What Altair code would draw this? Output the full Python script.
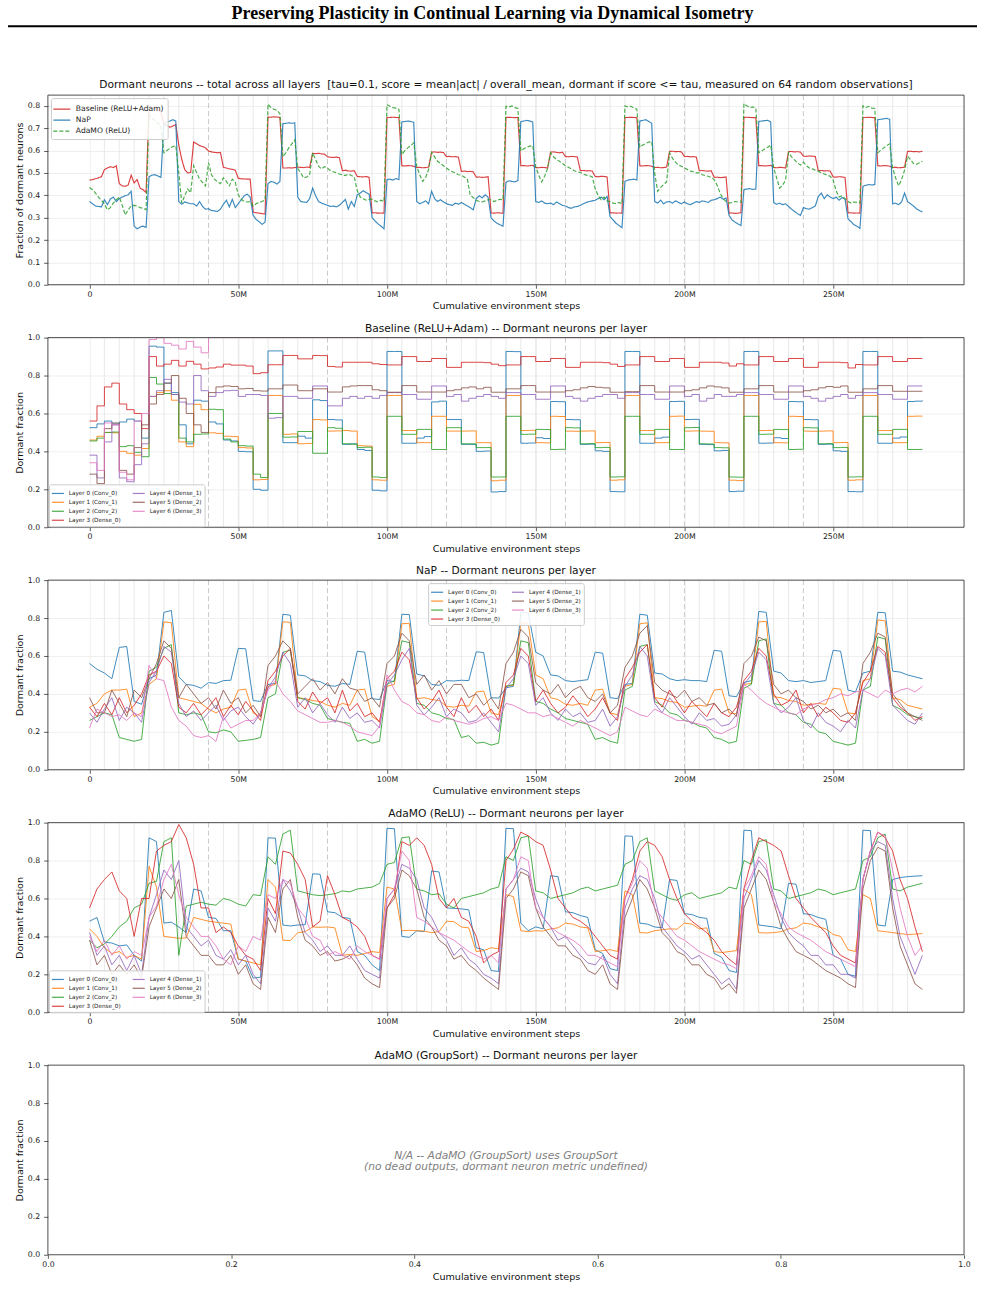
import altair as alt
import numpy as np
import pandas as pd

# Plot-area size of every panel (pixels)
W, H = 918, 190

# ---------------------------------------------------------------------------
# Total dormant fraction, one sample per 1M environment steps (0..280M),
# values stored in thousandths.
# ---------------------------------------------------------------------------
TOTAL_BASELINE = [
    468, 470, 474, 478, 483, 515, 522, 528, 524, 532,
    452, 442, 440, 446, 490, 455, 470, 432, 425, 412,
    795, 790, 785, 780, 772, 718, 712, 704, 710, 716,
    625, 560, 515, 500, 502, 638, 630, 622, 618, 612,
    598, 594, 592, 590, 592, 525, 522, 518, 516, 512,
    476, 474, 473, 472, 472, 325, 322, 320, 318, 316,
    750, 749, 751, 750, 748, 522, 522, 523, 522, 524,
    526, 525, 524, 526, 525, 588, 586, 588, 585, 584,
    572, 570, 569, 571, 568, 510, 512, 509, 508, 510,
    484, 483, 482, 484, 480, 321, 322, 320, 321, 320,
    748, 748, 749, 748, 748, 532, 531, 533, 532, 530,
    524, 525, 523, 524, 526, 593, 594, 592, 593, 591,
    573, 574, 572, 573, 571, 507, 508, 506, 507, 505,
    481, 482, 480, 481, 483, 321, 320, 322, 321, 319,
    748, 749, 748, 747, 748, 532, 533, 531, 532, 534,
    524, 523, 525, 524, 522, 593, 594, 592, 590, 593,
    573, 572, 574, 573, 571, 510, 511, 509, 510, 508,
    484, 483, 485, 484, 482, 321, 322, 320, 321, 320,
    748, 748, 749, 748, 747, 532, 531, 533, 532, 530,
    524, 525, 523, 524, 526, 596, 597, 595, 596, 594,
    573, 574, 572, 573, 571, 510, 511, 509, 508, 510,
    480, 481, 479, 480, 482, 320, 321, 319, 320, 322,
    748, 749, 748, 747, 748, 532, 533, 531, 532, 534,
    524, 523, 525, 524, 522, 595, 596, 594, 595, 593,
    575, 574, 576, 575, 573, 510, 511, 509, 510, 508,
    482, 481, 483, 482, 480, 321, 322, 320, 321, 320,
    748, 748, 749, 748, 747, 532, 531, 533, 532, 530,
    524, 525, 523, 524, 526, 596, 597, 595, 596, 594,
    597,
]

TOTAL_NAP = [
    373, 362, 352, 350, 348, 380, 358, 384, 392, 372,
    385, 392, 398, 402, 418, 262, 250, 258, 262, 256,
    482, 490, 492, 486, 480, 722, 728, 732, 738, 732,
    372, 360, 370, 366, 362, 362, 352, 372, 350, 338,
    340, 332, 330, 328, 338, 360, 378, 348, 382, 345,
    362, 380, 398, 405, 392, 310, 292, 282, 270, 280,
    452, 462, 458, 450, 462, 720, 722, 724, 722, 724,
    392, 372, 370, 368, 385, 432, 398, 372, 365, 360,
    355, 350, 352, 348, 355, 368, 382, 338, 372, 350,
    402, 410, 420, 412, 405, 300, 285, 272, 262, 250,
    470, 472, 468, 475, 470, 728, 730, 732, 730, 726,
    372, 362, 368, 375, 362, 418, 385, 372, 380, 370,
    362, 358, 355, 365, 360, 368, 360, 352, 345, 335,
    385, 398, 388, 402, 392, 300, 285, 275, 268, 262,
    458, 465, 462, 460, 466, 730, 732, 735, 732, 728,
    372, 368, 375, 365, 362, 365, 358, 370, 362, 355,
    352, 345, 342, 348, 350, 355, 362, 368, 372, 375,
    378, 385, 392, 380, 395, 305, 290, 275, 265, 255,
    462, 468, 470, 472, 468, 732, 735, 738, 730, 722,
    372, 365, 378, 362, 370, 372, 365, 375, 368, 362,
    370, 362, 358, 365, 372, 368, 375, 372, 368, 378,
    380, 385, 392, 382, 388, 310, 290, 280, 272, 265,
    425, 428, 430, 426, 428, 730, 732, 734, 735, 728,
    368, 360, 365, 358, 362, 350, 338, 328, 318, 310,
    345, 340, 338, 345, 352, 395, 410, 385, 402, 392,
    385, 392, 378, 390, 382, 295, 282, 268, 262, 252,
    440, 445, 448, 446, 448, 738, 740, 742, 744, 740,
    362, 365, 358, 370, 410, 372, 362, 352, 340, 332,
    325,
]

TOTAL_ADAMO = [
    435, 425, 410, 392, 378, 362, 335, 345, 365, 380,
    392, 355, 312, 335, 352, 355, 352, 345, 342, 335,
    760, 745, 735, 722, 712, 590, 600, 610, 618, 622,
    500, 365, 398, 428, 412, 532, 502, 472, 458, 442,
    545, 492, 472, 460, 452, 478, 462, 442, 472, 458,
    402, 382, 372, 370, 372, 352, 362, 368, 372, 380,
    808, 792, 785, 780, 765, 572, 590, 612, 630, 648,
    520, 500, 478, 482, 492, 590, 560, 530, 518, 528,
    522, 510, 505, 500, 495, 492, 488, 495, 488, 482,
    420, 392, 385, 378, 382, 382, 375, 370, 378, 372,
    805, 798, 792, 790, 785, 582, 600, 612, 622, 635,
    528, 492, 462, 480, 515, 592, 572, 552, 542, 532,
    522, 512, 505, 500, 492, 490, 482, 472, 400, 390,
    378, 372, 370, 375, 380, 380, 372, 378, 382, 380,
    798, 795, 800, 792, 788, 598, 608, 615, 620, 622,
    528, 490, 460, 485, 520, 590, 572, 560, 552, 542,
    532, 525, 518, 510, 505, 502, 495, 490, 488, 482,
    430, 398, 380, 392, 375, 372, 365, 362, 368, 362,
    800, 795, 798, 790, 785, 615, 625, 632, 638, 640,
    498, 418, 435, 448, 460, 590, 565, 548, 535, 530,
    522, 515, 508, 505, 500, 500, 492, 488, 485, 480,
    470, 445, 410, 385, 372, 365, 368, 372, 370, 368,
    810, 800, 792, 795, 790, 590, 598, 608, 615, 625,
    522, 478, 432, 445, 468, 592, 572, 558, 545, 535,
    548, 532, 522, 518, 512, 508, 500, 495, 490, 485,
    468, 420, 392, 398, 385, 372, 365, 370, 368, 365,
    800, 792, 798, 790, 788, 590, 602, 612, 622, 630,
    522, 478, 442, 470, 512, 575, 560, 542, 538, 545,
    552,
]

# ---------------------------------------------------------------------------
# Per-layer dormant fraction, one sample per 2.5M steps (0..280M),
# values stored in thousandths.  One line = 20M steps.
# ---------------------------------------------------------------------------
BASE_L0 = [
    525, 545, 560, 545, 555, 570, 560, 470,
    955, 950, 760, 710, 540, 440, 670, 665,
    555, 545, 460, 455, 400, 398, 200, 195,
    930, 930, 446, 446, 480, 470, 672, 668,
    568, 566, 437, 440, 410, 405, 195, 192,
    927, 927, 443, 443, 470, 478, 661, 665,
    568, 568, 437, 437, 400, 402, 186, 188,
    927, 926, 443, 444, 472, 468, 663, 662,
    568, 567, 437, 438, 403, 400, 188, 187,
    927, 927, 443, 443, 470, 475, 663, 664,
    568, 569, 437, 436, 403, 405, 188, 190,
    927, 927, 443, 444, 472, 468, 663, 662,
    568, 567, 437, 438, 403, 400, 188, 187,
    927, 927, 443, 443, 470, 476, 663, 665,
    668,
]
BASE_L1 = [
    460, 480, 500, 498, 400, 390, 380, 415,
    690, 710, 720, 670, 450, 425, 648, 620,
    498, 495, 480, 478, 420, 418, 250, 252,
    695, 695, 490, 492, 440, 442, 568, 566,
    507, 508, 510, 507, 430, 428, 250, 248,
    695, 695, 510, 510, 446, 446, 585, 585,
    507, 507, 507, 508, 446, 446, 245, 248,
    695, 695, 510, 511, 446, 445, 585, 584,
    507, 506, 507, 508, 446, 447, 248, 250,
    695, 695, 510, 510, 446, 446, 585, 586,
    507, 508, 507, 506, 446, 445, 248, 246,
    695, 695, 510, 511, 446, 445, 585, 584,
    507, 506, 507, 508, 446, 447, 248, 250,
    695, 695, 510, 510, 446, 446, 585, 586,
    585,
]
BASE_L2 = [
    455, 470, 500, 502, 425, 430, 395, 372,
    790, 755, 705, 700, 470, 450, 490, 492,
    622, 620, 465, 450, 430, 428, 280, 262,
    600, 600, 475, 476, 505, 505, 390, 390,
    525, 522, 440, 438, 420, 422, 265, 262,
    585, 585, 490, 490, 516, 516, 410, 410,
    525, 525, 440, 440, 420, 420, 265, 265,
    585, 585, 490, 491, 516, 515, 410, 411,
    525, 524, 440, 441, 420, 421, 265, 266,
    585, 585, 490, 490, 516, 516, 410, 410,
    525, 526, 440, 439, 420, 419, 265, 264,
    585, 585, 490, 491, 516, 515, 410, 411,
    525, 524, 440, 441, 420, 421, 265, 266,
    585, 585, 490, 490, 516, 516, 410, 410,
    410,
]
BASE_L3 = [
    560, 640, 740, 760, 650, 620, 600, 520,
    900, 850, 860, 880, 850, 875, 860, 835,
    840, 845, 860, 855, 855, 850, 810, 815,
    857, 857, 906, 906, 888, 888, 906, 905,
    848, 845, 870, 870, 870, 870, 862, 858,
    856, 856, 900, 900, 874, 874, 890, 890,
    843, 843, 870, 870, 870, 868, 860, 852,
    856, 856, 900, 900, 874, 874, 890, 890,
    843, 843, 870, 870, 870, 868, 860, 848,
    856, 856, 900, 900, 874, 874, 890, 890,
    843, 843, 870, 870, 870, 866, 850, 862,
    856, 856, 900, 900, 874, 874, 890, 890,
    843, 843, 870, 870, 870, 868, 840, 858,
    856, 856, 900, 900, 874, 874, 890, 890,
    890,
]
BASE_L4 = [
    380, 260, 450, 540, 260, 240, 330, 440,
    690, 720, 780, 700, 660, 650, 800, 720,
    690, 710, 720, 722, 690, 700, 700, 695,
    575, 578, 690, 690, 680, 680, 745, 745,
    640, 640, 680, 690, 680, 690, 680, 695,
    710, 710, 700, 700, 675, 675, 745, 745,
    690, 700, 665, 680, 690, 700, 690, 680,
    710, 710, 700, 700, 675, 675, 745, 745,
    690, 680, 665, 680, 690, 700, 700, 680,
    710, 710, 700, 700, 675, 675, 745, 745,
    690, 700, 665, 680, 700, 690, 690, 700,
    710, 710, 700, 700, 675, 675, 745, 745,
    690, 680, 665, 680, 690, 700, 680, 695,
    710, 710, 700, 700, 675, 675, 745, 745,
    745,
]
BASE_L5 = [
    280, 230, 520, 550, 300, 280, 420, 540,
    650, 700, 760, 800, 680, 600, 540, 500,
    710, 740, 745, 742, 730, 732, 720, 718,
    730, 730, 750, 750, 720, 720, 730, 730,
    713, 713, 740, 745, 747, 747, 725, 720,
    712, 712, 747, 747, 713, 713, 713, 713,
    720, 725, 735, 740, 730, 738, 712, 712,
    730, 730, 747, 747, 713, 713, 713, 713,
    720, 725, 735, 742, 738, 735, 712, 712,
    715, 715, 747, 747, 713, 713, 713, 713,
    720, 725, 735, 745, 740, 735, 712, 712,
    730, 730, 747, 747, 713, 713, 713, 713,
    720, 725, 735, 742, 738, 745, 712, 712,
    730, 730, 747, 747, 717, 717, 717, 717,
    717,
]
BASE_L6 = [
    340, 300, 550, 540, 290, 250, 560, 600,
    990, 1000, 970, 960, 940, 980, 950, 920,
    1000, 1000, 1000, 1000, 1000, 1000, 1000, 1000,
    1000, 1000, 1000, 1000, 1000, 1000, 1000, 1000,
    1000, 1000, 1000, 1000, 1000, 1000, 1000, 1000,
    1000, 1000, 1000, 1000, 1000, 1000, 1000, 1000,
    1000, 1000, 1000, 1000, 1000, 1000, 1000, 1000,
    1000, 1000, 1000, 1000, 1000, 1000, 1000, 1000,
    1000, 1000, 1000, 1000, 1000, 1000, 1000, 1000,
    1000, 1000, 1000, 1000, 1000, 1000, 1000, 1000,
    1000, 1000, 1000, 1000, 1000, 1000, 1000, 1000,
    1000, 1000, 1000, 1000, 1000, 1000, 1000, 1000,
    1000, 1000, 1000, 1000, 1000, 1000, 1000, 1000,
    1000, 1000, 1000, 1000, 1000, 1000, 1000, 1000,
    1000,
]

NAP_L0 = [
    560, 530, 510, 480, 645, 650, 360, 345,
    480, 500, 830, 840, 490, 450, 445, 430,
    460, 455, 470, 472, 640, 638, 365, 360,
    450, 455, 820, 815, 500, 495, 470, 465,
    445, 440, 455, 450, 625, 620, 375, 370,
    470, 465, 820, 818, 505, 495, 450, 445,
    470, 468, 472, 470, 622, 618, 380, 378,
    432, 440, 830, 826, 620, 600, 500, 495,
    470, 465, 470, 475, 620, 615, 380, 375,
    450, 455, 820, 815, 510, 505, 480, 470,
    475, 470, 470, 465, 630, 625, 390, 385,
    460, 470, 835, 830, 520, 510, 470, 465,
    470, 460, 465, 470, 630, 625, 420, 410,
    510, 520, 830, 828, 520, 515, 500, 490,
    480,
]
NAP_L1 = [
    330, 350, 400, 420, 420, 425, 280, 300,
    450, 480, 780, 775, 380, 370, 360, 350,
    320, 300, 320, 330, 420, 425, 300, 280,
    440, 450, 780, 778, 380, 375, 365, 360,
    340, 330, 350, 340, 420, 425, 280, 255,
    440, 450, 770, 772, 375, 380, 370, 365,
    335, 330, 340, 335, 410, 415, 300, 290,
    440, 445, 775, 770, 500, 480, 380, 370,
    345, 340, 350, 340, 420, 425, 300, 290,
    440, 450, 770, 775, 380, 375, 360, 355,
    330, 335, 340, 335, 420, 425, 300, 295,
    450, 455, 780, 782, 385, 380, 365, 360,
    340, 345, 350, 345, 430, 425, 300, 295,
    470, 480, 790, 785, 380, 370, 340, 330,
    320,
]
NAP_L2 = [
    260, 280, 300, 290, 170, 160, 150, 160,
    520, 540, 640, 660, 300, 290, 300, 290,
    200, 195, 210, 200, 150, 155, 160, 170,
    380, 400, 620, 630, 380, 370, 350, 340,
    270, 260, 250, 245, 150, 160, 140, 150,
    450, 470, 680, 670, 350, 340, 300, 290,
    270, 265, 170, 180, 140, 145, 130, 140,
    440, 450, 680, 670, 360, 350, 320, 300,
    270, 260, 250, 240, 160, 170, 150, 140,
    420, 440, 650, 660, 360, 340, 300, 290,
    260, 250, 230, 220, 170, 160, 140, 150,
    430, 450, 680, 690, 350, 340, 300, 290,
    250, 240, 200, 190, 150, 140, 130, 140,
    420, 440, 700, 690, 340, 320, 290, 280,
    270,
]
NAP_L3 = [
    330, 280, 350, 290, 380, 300, 340, 400,
    500, 520, 600, 560, 330, 300, 350, 290,
    330, 380, 280, 340, 290, 360, 310, 260,
    470, 520, 600, 640, 360, 320, 410, 350,
    380, 300, 420, 310, 350, 280, 300, 250,
    480, 520, 620, 580, 380, 320, 360, 420,
    330, 280, 380, 300, 340, 280, 320, 260,
    460, 500, 640, 600, 360, 420, 350, 300,
    330, 390, 340, 280, 320, 380, 300, 260,
    480, 540, 620, 660, 380, 330, 420, 360,
    300, 360, 320, 280, 350, 300, 280, 330,
    470, 520, 640, 600, 400, 340, 360, 420,
    300, 350, 280, 330, 300, 260, 250, 300,
    460, 520, 650, 620, 380, 330, 300, 260,
    280,
]
NAP_L4 = [
    300, 250, 320, 380, 260, 330, 300, 250,
    460, 520, 650, 620, 350, 280, 310, 260,
    300, 340, 260, 310, 330, 280, 240, 300,
    430, 490, 620, 560, 330, 380, 300, 350,
    290, 250, 330, 270, 300, 250, 260, 220,
    450, 500, 580, 640, 340, 290, 330, 380,
    280, 320, 300, 250, 260, 300, 250, 200,
    430, 480, 600, 560, 340, 380, 300, 260,
    320, 280, 300, 250, 260, 320, 230, 280,
    440, 500, 650, 600, 350, 300, 380, 330,
    280, 240, 300, 260, 270, 230, 240, 290,
    450, 500, 620, 580, 350, 300, 330, 380,
    260, 220, 300, 250, 230, 200, 260, 220,
    420, 480, 640, 600, 340, 300, 260, 240,
    300,
]
NAP_L5 = [
    380, 300, 300, 420, 350, 280, 420, 380,
    480, 560, 680, 640, 380, 450, 400, 350,
    380, 320, 420, 350, 380, 300, 340, 280,
    550, 600, 680, 640, 400, 440, 480, 420,
    460, 400, 480, 430, 420, 360, 380, 330,
    560, 600, 720, 680, 450, 500, 420, 470,
    400, 450, 450, 380, 400, 340, 380, 320,
    560, 620, 740, 700, 460, 420, 400, 450,
    380, 420, 440, 380, 360, 400, 300, 340,
    540, 600, 720, 760, 460, 420, 400, 380,
    420, 360, 380, 340, 350, 300, 320, 280,
    560, 600, 700, 680, 450, 400, 420, 380,
    360, 320, 340, 300, 320, 280, 300, 260,
    560, 620, 720, 700, 400, 350, 300, 280,
    260,
]
NAP_L6 = [
    220, 320, 300, 280, 290, 260, 300, 280,
    550, 480, 470, 330, 260, 230, 180, 170,
    180, 150, 280, 220, 240, 260, 260, 300,
    420, 470, 400, 360, 310, 290, 270, 250,
    250, 260, 250, 230, 200, 190, 180, 230,
    500, 420, 360, 340, 300, 290, 260, 250,
    280, 260, 250, 240, 250, 270, 280, 260,
    350, 340, 320, 300, 300, 280, 290, 270,
    250, 230, 260, 240, 220, 200, 180, 200,
    330, 310, 290, 280, 320, 300, 280, 260,
    260, 250, 240, 230, 200, 190, 210, 230,
    450, 420, 380, 350, 330, 310, 300, 290,
    320, 340, 350, 370, 380, 400, 390, 410,
    420, 400, 380, 420, 400, 420, 430, 410,
    440,
]

ADAMO_L0 = [
    480, 500, 370, 365, 350, 355, 300, 270,
    920, 900, 470, 475, 450, 420, 650, 640,
    500, 495, 430, 430, 280, 270, 180, 185,
    920, 918, 460, 455, 460, 462, 730, 728,
    530, 525, 500, 495, 320, 300, 250, 220,
    970, 968, 400, 395, 430, 425, 745, 740,
    550, 548, 545, 540, 340, 330, 220, 215,
    970, 968, 470, 430, 450, 440, 720, 715,
    530, 525, 510, 500, 330, 310, 230, 220,
    930, 928, 470, 465, 450, 445, 700, 695,
    520, 515, 500, 495, 310, 290, 220, 210,
    960, 958, 460, 455, 450, 440, 680, 675,
    520, 515, 500, 490, 300, 280, 200, 190,
    960, 958, 460, 455, 700, 710, 715, 718,
    720,
]
ADAMO_L1 = [
    440, 400, 340, 310, 320, 290, 300, 280,
    770, 660, 400, 395, 390, 392, 500, 490,
    480, 475, 470, 465, 280, 270, 260, 250,
    700, 660, 380, 378, 420, 425, 450, 448,
    450, 445, 300, 305, 300, 310, 320, 315,
    660, 650, 430, 432, 430, 428, 420, 425,
    480, 478, 450, 445, 320, 325, 340, 335,
    620, 610, 430, 425, 430, 428, 440, 445,
    470, 465, 450, 445, 320, 325, 330, 320,
    640, 620, 420, 418, 430, 435, 440, 438,
    470, 465, 440, 445, 320, 315, 320, 325,
    650, 620, 420, 418, 420, 425, 440, 445,
    470, 465, 450, 440, 410, 400, 330, 320,
    620, 600, 430, 425, 420, 415, 410, 412,
    415,
]
ADAMO_L2 = [
    380, 340, 360, 400, 450, 480, 550, 570,
    680, 690, 900, 920, 300, 560, 570, 580,
    570, 565, 600, 590, 570, 560, 620, 615,
    820, 780, 940, 960, 640, 630, 620, 615,
    620, 625, 640, 635, 650, 655, 660, 680,
    780, 790, 920, 925, 650, 640, 620, 625,
    570, 550, 600, 610, 620, 630, 650, 660,
    820, 800, 920, 930, 640, 630, 600, 610,
    620, 630, 650, 660, 640, 650, 660, 670,
    780, 800, 900, 920, 640, 620, 600, 590,
    620, 630, 600, 610, 620, 630, 660, 650,
    800, 780, 900, 910, 650, 640, 600, 610,
    620, 630, 650, 640, 620, 630, 640, 650,
    800, 820, 920, 940, 650, 640, 660, 670,
    680,
]
ADAMO_L3 = [
    550, 650, 700, 740, 640, 600, 400, 600,
    600, 850, 880, 900, 990, 920, 780, 550,
    550, 420, 450, 420, 350, 300, 280, 220,
    600, 520, 850, 840, 780, 700, 450, 480,
    720, 620, 500, 480, 450, 400, 300, 280,
    550, 620, 900, 880, 920, 880, 780, 600,
    550, 600, 500, 480, 400, 260, 300, 320,
    800, 860, 950, 930, 900, 880, 750, 600,
    550, 500, 480, 450, 400, 350, 300, 280,
    600, 700, 850, 900, 880, 820, 700, 600,
    520, 480, 450, 420, 380, 320, 280, 250,
    650, 800, 920, 900, 880, 850, 720, 600,
    550, 500, 460, 420, 350, 300, 280, 260,
    700, 850, 950, 920, 850, 700, 600, 450,
    320,
]
ADAMO_L4 = [
    420, 300, 350, 250, 300, 220, 300, 200,
    500, 620, 750, 700, 800, 450, 400, 350,
    380, 300, 280, 330, 250, 300, 200, 150,
    550, 480, 700, 640, 550, 420, 380, 320,
    350, 300, 300, 350, 280, 220, 200, 180,
    600, 650, 780, 760, 700, 550, 500, 420,
    380, 300, 340, 280, 250, 200, 180, 150,
    650, 700, 760, 740, 600, 500, 450, 380,
    400, 350, 300, 260, 250, 300, 200, 150,
    550, 650, 720, 700, 600, 450, 400, 350,
    320, 280, 300, 250, 200, 150, 180, 120,
    600, 700, 800, 750, 620, 500, 420, 380,
    350, 300, 300, 250, 250, 200, 200, 180,
    700, 850, 900, 880, 600, 400, 300, 200,
    300,
]
ADAMO_L5 = [
    380, 250, 300, 200, 250, 200, 250, 180,
    450, 550, 650, 600, 700, 400, 350, 300,
    300, 250, 250, 300, 200, 250, 150, 120,
    500, 420, 650, 700, 500, 380, 350, 300,
    320, 270, 280, 300, 250, 180, 150, 130,
    550, 600, 750, 720, 650, 500, 450, 380,
    350, 280, 300, 250, 220, 180, 150, 120,
    600, 650, 740, 720, 550, 450, 400, 350,
    350, 300, 280, 220, 200, 250, 150, 120,
    500, 600, 700, 650, 550, 420, 380, 320,
    300, 250, 250, 200, 180, 120, 150, 100,
    550, 650, 750, 700, 580, 450, 380, 320,
    300, 280, 250, 220, 200, 180, 150, 130,
    650, 800, 870, 850, 550, 350, 250, 150,
    120,
]
ADAMO_L6 = [
    400, 320, 380, 300, 350, 280, 320, 300,
    500, 560, 700, 780, 620, 500, 450, 400,
    400, 350, 280, 250, 350, 320, 400, 380,
    620, 600, 700, 680, 550, 500, 400, 380,
    300, 320, 300, 280, 350, 320, 300, 280,
    600, 650, 850, 800, 500, 480, 450, 420,
    400, 380, 350, 320, 300, 280, 300, 260,
    650, 700, 820, 800, 550, 500, 450, 420,
    400, 380, 350, 300, 300, 280, 260, 240,
    600, 680, 800, 760, 550, 500, 450, 400,
    380, 350, 320, 300, 280, 260, 250, 230,
    650, 720, 820, 780, 580, 520, 450, 420,
    400, 380, 350, 320, 300, 280, 260, 240,
    700, 850, 950, 930, 750, 550, 400, 300,
    350,
]

METHODS = ["Baseline (ReLU+Adam)", "NaP", "AdaMO (ReLU)"]
METHOD_COLORS = ["#d62728", "#1f77b4", "#2ca02c"]
METHOD_DASH = [[1, 0], [1, 0], [4, 2]]

LAYER_NAMES = ["Layer 0 (Conv_0)", "Layer 1 (Conv_1)", "Layer 2 (Conv_2)", "Layer 3 (Dense_0)",
               "Layer 4 (Dense_1)", "Layer 5 (Dense_2)", "Layer 6 (Dense_3)"]
LAYER_COLORS = ["#1f77b4", "#ff7f0e", "#2ca02c", "#d62728", "#9467bd", "#8c564b", "#e377c2"]

X_TICKS = [0, 50, 100, 150, 200, 250]
TASK_SWITCH = [m for m in range(5, 280, 5) if m % 40 != 0]   # task boundaries
GAME_SWITCH = [40, 80, 120, 160, 200, 240]                     # environment changes

TITLE = "Preserving Plasticity in Continual Learning via Dynamical Isometry"
FONT = "DejaVu Sans"

STEPS_1M = np.arange(281)
STEPS_25 = np.arange(113) * 2.5
for s in (TOTAL_BASELINE, TOTAL_NAP, TOTAL_ADAMO):
    assert len(s) == len(STEPS_1M)
for s in (BASE_L0, BASE_L1, BASE_L2, BASE_L3, BASE_L4, BASE_L5, BASE_L6,
          NAP_L0, NAP_L1, NAP_L2, NAP_L3, NAP_L4, NAP_L5, NAP_L6,
          ADAMO_L0, ADAMO_L1, ADAMO_L2, ADAMO_L3, ADAMO_L4, ADAMO_L5, ADAMO_L6):
    assert len(s) == len(STEPS_25)

ONE = pd.DataFrame({"k": [0]})
X_SCALE = alt.Scale(domain=[-14, 294], nice=False, zero=False)
X_AXIS = alt.Axis(values=X_TICKS, labelExpr="datum.value == 0 ? '0' : datum.value + 'M'",
                  title="Cumulative environment steps", grid=True)


def panel_title(text, offset):
    # the top "1.0" tick label sits above the plot area, so panels with it need a smaller offset
    return alt.TitleParams(text=text, font=FONT, fontSize=10.7, fontWeight="normal",
                           color="#111111", offset=offset, anchor="middle", frame="group")


def frame():
    return alt.Chart(ONE).mark_rect(filled=False, stroke="#3a3a3a", strokeWidth=0.9).encode(
        x=alt.value(0), x2=alt.value(W), y=alt.value(0), y2=alt.value(H))


def boundaries():
    task = alt.Chart(pd.DataFrame({"x": TASK_SWITCH})).mark_rule(
        color="#e3e3e3", strokeWidth=0.8).encode(x=alt.X("x:Q", scale=X_SCALE, axis=X_AXIS))
    game = alt.Chart(pd.DataFrame({"x": GAME_SWITCH})).mark_rule(
        color="#c4c4c4", strokeWidth=0.9, strokeDash=[5, 3]).encode(
        x=alt.X("x:Q", scale=X_SCALE, axis=X_AXIS))
    return [task, game]


# legend handles: horizontal strokes a bit longer than the symbol box so rows stay compact
HANDLE_LONG = "M-1.35,0H1.35"
HANDLE_SHORT = "M-1.15,0H1.15"

# ---- panel 1: total across all layers ----
df_total = pd.DataFrame({
    "step": np.tile(STEPS_1M, 3),
    "frac": np.concatenate([TOTAL_BASELINE, TOTAL_NAP, TOTAL_ADAMO]) / 1000.0,
    "method": np.repeat(METHODS, len(STEPS_1M)),
})
legend_total = alt.Legend(title=None, orient="none", legendX=3, legendY=3, direction="vertical",
                          labelFont=FONT, labelFontSize=7.6, labelColor="#222222",
                          symbolType=HANDLE_LONG, symbolSize=160, symbolStrokeWidth=1.3,
                          symbolFillColor="transparent",
                          fillColor="rgba(255,255,255,0.85)", strokeColor="#cccccc",
                          padding=4, rowPadding=0, labelOffset=7, cornerRadius=2)
total_lines = alt.Chart(df_total).mark_line(strokeWidth=1.15, opacity=0.88, clip=True).encode(
    x=alt.X("step:Q", scale=X_SCALE, axis=X_AXIS),
    y=alt.Y("frac:Q", scale=alt.Scale(domain=[0, 0.848], nice=False, zero=False),
            axis=alt.Axis(values=[0.0, 0.1, 0.2, 0.3, 0.4, 0.5, 0.6, 0.7, 0.8], format=".1f",
                          title="Fraction of dormant neurons", grid=True)),
    color=alt.Color("method:N", scale=alt.Scale(domain=METHODS, range=METHOD_COLORS), legend=legend_total),
    strokeDash=alt.StrokeDash("method:N", scale=alt.Scale(domain=METHODS, range=METHOD_DASH), legend=legend_total),
)
panel_total = alt.layer(*boundaries(), total_lines, frame()).properties(
    width=W, height=H,
    title=panel_title("Dormant neurons -- total across all layers \u00a0[tau=0.1, score = mean|act| / "
                      "overall_mean, dormant if score <= tau, measured on 64 random observations]", 4))


# ---- panels 2-4: per-layer curves ----
def layer_panel(series, title, lx, ly, interp="linear"):
    df = pd.DataFrame({
        "step": np.tile(STEPS_25, len(series)),
        "frac": np.concatenate(series) / 1000.0,
        "layer": np.repeat(LAYER_NAMES, len(STEPS_25)),
    })
    leg = alt.Legend(title=None, orient="none", legendX=lx, legendY=ly, columns=2,
                     labelFont=FONT, labelFontSize=5.7, labelColor="#222222",
                     symbolType=HANDLE_SHORT, symbolSize=110, symbolStrokeWidth=1.2,
                     symbolFillColor="transparent",
                     fillColor="rgba(255,255,255,0.85)", strokeColor="#cccccc",
                     padding=3, rowPadding=0, columnPadding=9, labelOffset=5, cornerRadius=2)
    lines = alt.Chart(df).mark_line(strokeWidth=1.0, opacity=0.85, clip=True, interpolate=interp).encode(
        x=alt.X("step:Q", scale=X_SCALE, axis=X_AXIS),
        y=alt.Y("frac:Q", scale=alt.Scale(domain=[0, 1], nice=False, zero=False),
                axis=alt.Axis(values=[0.0, 0.2, 0.4, 0.6, 0.8, 1.0], format=".1f",
                              title="Dormant fraction", grid=True)),
        color=alt.Color("layer:N", scale=alt.Scale(domain=LAYER_NAMES, range=LAYER_COLORS), legend=leg),
    )
    return alt.layer(*boundaries(), lines, frame()).properties(
        width=W, height=H, title=panel_title(title, -1))


panel_base = layer_panel([BASE_L0, BASE_L1, BASE_L2, BASE_L3, BASE_L4, BASE_L5, BASE_L6],
                         "Baseline (ReLU+Adam) -- Dormant neurons per layer", 1, 147, "step-after")
panel_nap = layer_panel([NAP_L0, NAP_L1, NAP_L2, NAP_L3, NAP_L4, NAP_L5, NAP_L6],
                        "NaP -- Dormant neurons per layer", 381, 3)
panel_adamo = layer_panel([ADAMO_L0, ADAMO_L1, ADAMO_L2, ADAMO_L3, ADAMO_L4, ADAMO_L5, ADAMO_L6],
                          "AdaMO (ReLU) -- Dormant neurons per layer", 1, 148)

# ---- panel 5: metric not defined for GroupSort ----
na_text = alt.Chart(pd.DataFrame({
    "x": [0.5], "y": [0.5],
    "msg": ["N/A -- AdaMO (GroupSort) uses GroupSort\n(no dead outputs, dormant neuron metric undefined)"],
})).mark_text(lineBreak="\n", font=FONT, fontStyle="italic", fontSize=10.7, color="#808080",
              align="center", baseline="middle", lineHeight=11.5, dy=-4).encode(
    x=alt.X("x:Q", scale=alt.Scale(domain=[0, 1], nice=False),
            axis=alt.Axis(values=[0.0, 0.2, 0.4, 0.6, 0.8, 1.0], format=".1f",
                          title="Cumulative environment steps", grid=False)),
    y=alt.Y("y:Q", scale=alt.Scale(domain=[0, 1], nice=False),
            axis=alt.Axis(values=[0.0, 0.2, 0.4, 0.6, 0.8, 1.0], format=".1f",
                          title="Dormant fraction", grid=False)),
    text="msg:N",
)
panel_gs = alt.layer(na_text, frame()).properties(
    width=W, height=H, title=panel_title("AdaMO (GroupSort) -- Dormant neurons per layer", -1))

# ---- figure heading with rule underneath ----
header = alt.layer(
    alt.Chart(ONE).mark_text(text=TITLE, font="Liberation Serif", fontWeight="bold", fontSize=18,
                             color="#000000", align="center", baseline="middle").encode(
        x=alt.value(445.5), y=alt.value(13)),
    alt.Chart(ONE).mark_rule(color="#000000", strokeWidth=2).encode(
        x=alt.value(-40), x2=alt.value(931), y=alt.value(25)),
).properties(width=W, height=41)

chart = alt.vconcat(
    header, panel_total, panel_base, panel_nap, panel_adamo, panel_gs,
    spacing=53, bounds="flush",
).resolve_scale(
    x="independent", y="independent", color="independent", strokeDash="independent",
).properties(
    padding={"left": 7, "right": 7, "top": 0, "bottom": 4},
    background="white",
).configure_view(
    stroke=None,
).configure_axis(
    labelFont=FONT, labelFontSize=7.8, labelColor="#222222", labelFlush=False,
    tickColor="#333333", tickWidth=0.8,
    domain=False,
    gridColor="#ebebeb", gridWidth=0.8,
    titleFont=FONT, titleFontSize=9.6, titleFontWeight="normal", titleColor="#111111",
).configure_axisX(
    tickSize=3.5, labelPadding=2, titlePadding=3,
).configure_axisY(
    tickSize=4.3, labelPadding=4, titlePadding=3,
)

chart.save("out.html", embed_options={"renderer": "svg", "actions": False})
